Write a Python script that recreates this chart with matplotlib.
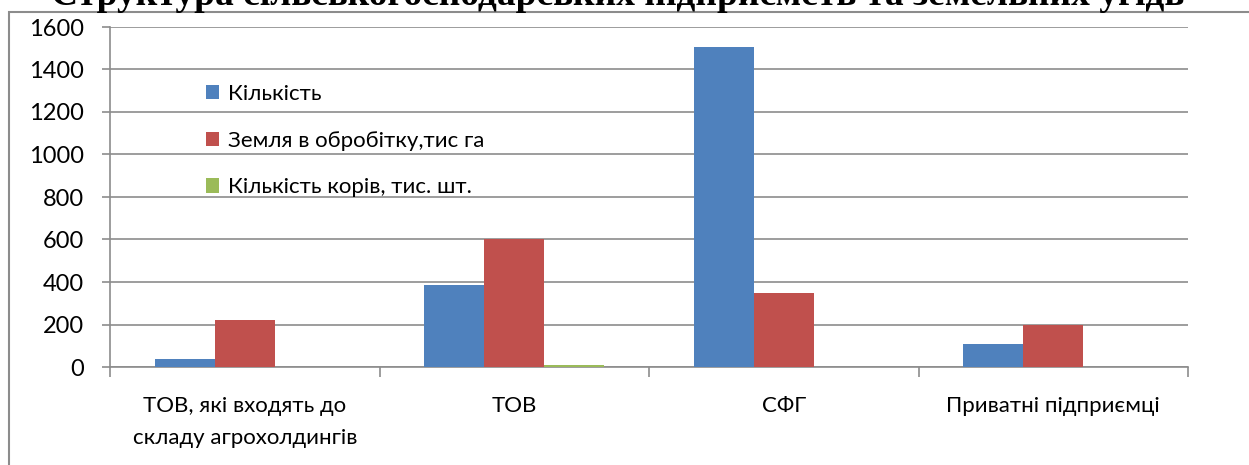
import matplotlib
matplotlib.use("Agg")
import matplotlib.pyplot as plt
import numpy as np
from matplotlib.patches import Rectangle

categories = ["ТОВ, які входять до\nскладу агрохолдингів", "ТОВ", "СФГ", "Приватні підприємці"]
series_names = ["Кількість", "Земля в обробітку,тис га", "Кількість корів, тис. шт."]
count_vals = [38, 385, 1505, 107]
land_vals = [220, 600, 348, 200]
cows_vals = [0, 9, 0, 0]
colors = ["#4F81BD", "#C0504D", "#9BBB59"]
yticks = [0, 200, 400, 600, 800, 1000, 1200, 1400, 1600]
title = "Структура сільськогосподарських підприємств та земельних угідь"

plt.rcParams['font.family'] = ['Lato', 'Open Sans', 'DejaVu Sans']

W, H = 1249, 465
fig = plt.figure(figsize=(W / 100, H / 100), dpi=100)
ax = fig.add_axes([110 / W, 1 - 367 / H, (1188 - 110) / W, (367 - 27) / H])

x = np.arange(len(categories))
bw = 1 / 4.5
for i, (vals, name) in enumerate(zip([count_vals, land_vals, cows_vals], series_names)):
    ax.bar(x + (i - 1) * bw, vals, width=bw, color=colors[i], label=name, zorder=3)

ax.set_xlim(-0.5, len(categories) - 0.5)
ax.set_ylim(0, 1600)
ax.set_yticks(yticks)
ax.set_yticklabels([str(v) for v in yticks], fontsize=17, color="#000000")
ax.yaxis.grid(True, color="#8c8c8c", linewidth=1.2, zorder=0)
ax.tick_params(axis='y', length=6, width=1.2, color="#8c8c8c", pad=13)

ax.set_xticks(x)
ax.set_xticklabels(categories, fontsize=16, linespacing=1.75)
ax.tick_params(axis='x', which='major', length=0, pad=21)
ax.set_xticks(np.arange(-0.5, len(categories)), minor=True)
ax.tick_params(axis='x', which='minor', length=7, width=1.2, color="#8c8c8c")

for s in ['top', 'right']:
    ax.spines[s].set_visible(False)
for s in ['left', 'bottom']:
    ax.spines[s].set_color("#8c8c8c")
    ax.spines[s].set_linewidth(1.2)

leg = ax.legend(loc='upper left', bbox_to_anchor=((206 - 110) / 1078, (367 - 84) / 340),
                frameon=False, fontsize=16, handlelength=0.6, handleheight=0.6,
                handletextpad=0.4, labelspacing=1.2, borderpad=0, borderaxespad=0)

# outer frame
fig.patches.append(Rectangle((9 / W, -0.1), 1.2, 1.1 - 12 / H, transform=fig.transFigure,
                             fill=False, edgecolor="#8c8c8c", linewidth=1.5, zorder=0))

fig.text(618 / W, 1 - 5 / H, title, ha='center', va='baseline', fontsize=27,
         fontweight='bold', family=['Liberation Serif', 'DejaVu Serif'])

fig.savefig("out.png", dpi=100)
